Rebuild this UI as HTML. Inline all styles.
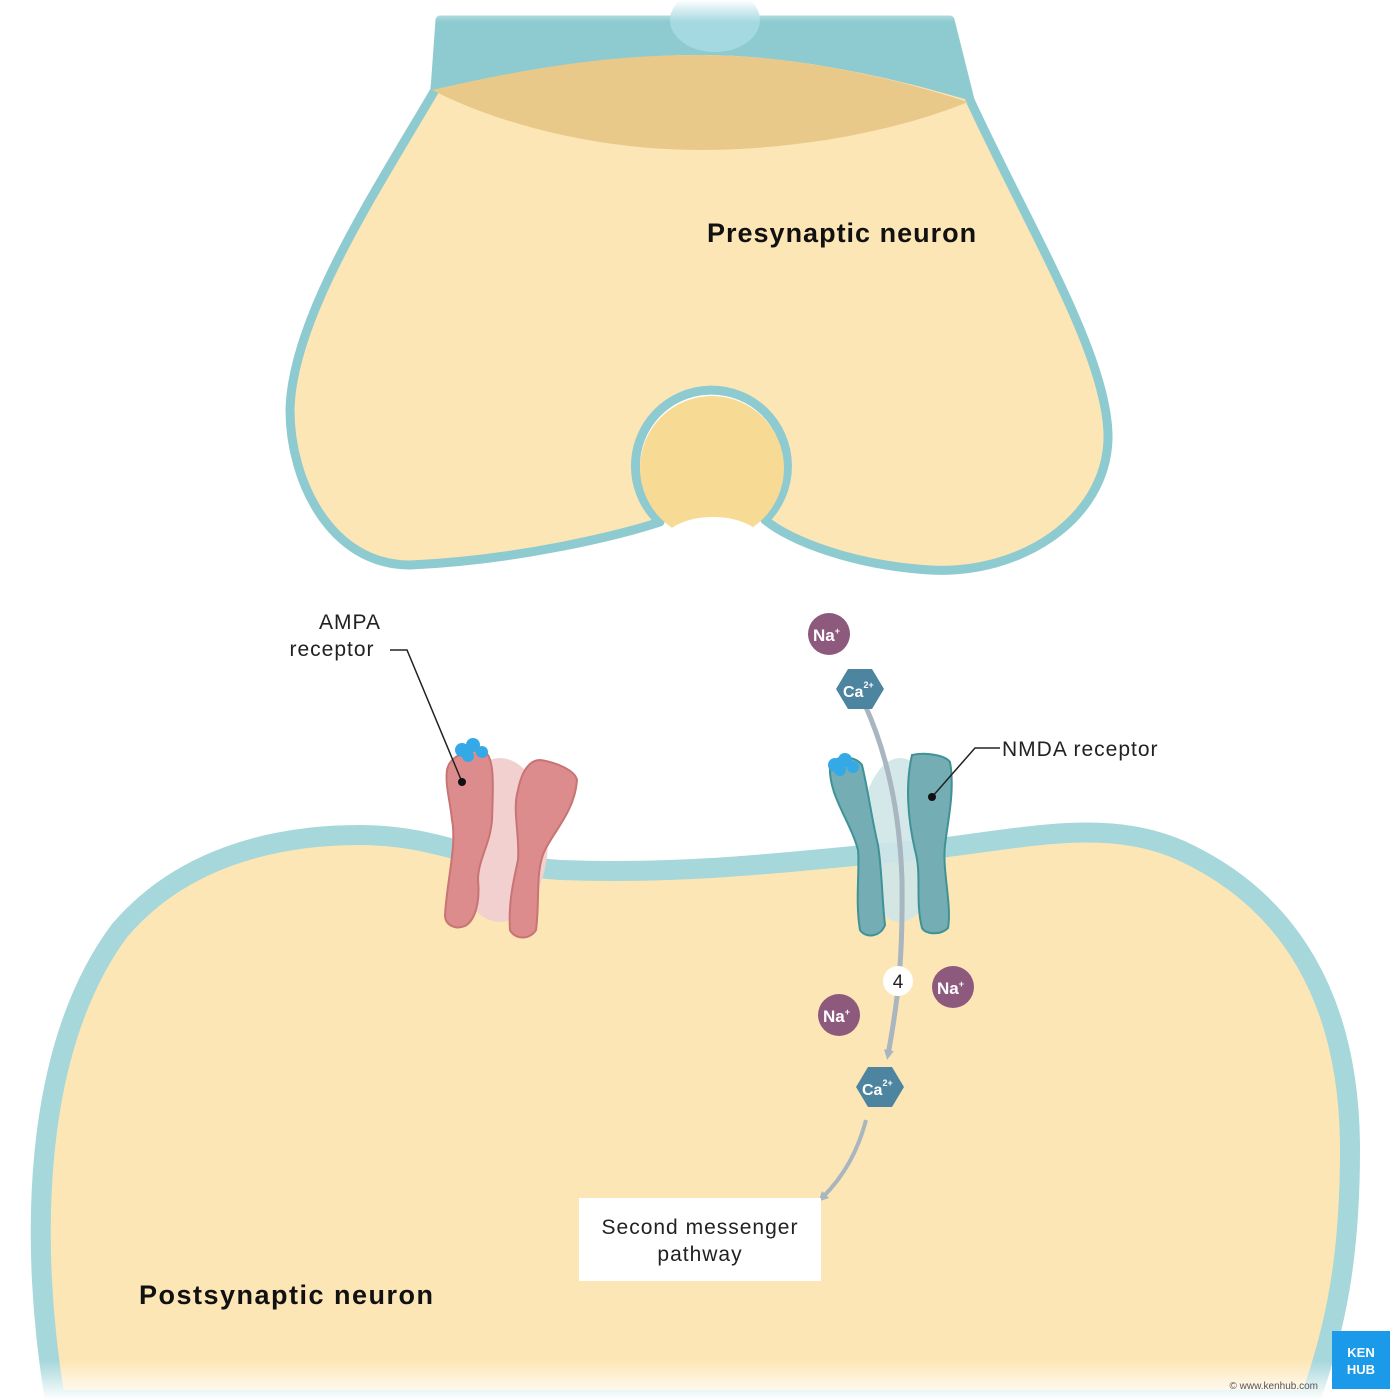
<!DOCTYPE html>
<html><head><meta charset="utf-8"><style>
html,body{margin:0;padding:0;background:#fff}
svg{display:block}
text{font-family:"Liberation Sans",sans-serif}
</style></head><body>
<svg width="1400" height="1400" viewBox="0 0 1400 1400" xmlns="http://www.w3.org/2000/svg">
<defs>
<linearGradient id="fadeTop" x1="0" y1="0" x2="0" y2="1">
<stop offset="0" stop-color="#fff" stop-opacity="1"/><stop offset="1" stop-color="#fff" stop-opacity="0"/>
</linearGradient>
<linearGradient id="fadeBot" x1="0" y1="0" x2="0" y2="1">
<stop offset="0" stop-color="#fff" stop-opacity="0"/><stop offset="1" stop-color="#fff" stop-opacity="1"/>
</linearGradient>
<marker id="ah" markerWidth="10" markerHeight="10" refX="5" refY="5" orient="auto" markerUnits="userSpaceOnUse">
<path d="M0,0 L10,5 L0,10 Z" fill="#a9b6c0"/>
</marker>
</defs>

<!-- Postsynaptic neuron -->
<path d="M55,1400 C30,1250 30,1050 120,930 C180,860 270,835 360,835 C440,835 480,865 560,870 C700,875 800,860 940,848 C1040,835 1110,820 1180,850 C1290,900 1350,1000 1350,1150 C1350,1260 1335,1330 1310,1400 Z" fill="#fde6b6" stroke="#a5d7db" stroke-width="20"/>

<!-- Presynaptic neuron -->
<path d="M440,20 L950,20 L970,100 C1030,230 1110,360 1108,440 C1105,520 1020,575 930,570 C850,565 790,540 765,520 A76,76 0 1 0 660,522 C620,535 520,560 410,565 C330,565 290,480 290,410 C292,320 370,200 435,90 Z" fill="#fde6b6" stroke="#8ecbd0" stroke-width="9" stroke-linejoin="round"/>
<path d="M440,20 L950,20 L968,100 C900,80 800,55 700,55 C600,55 520,75 430,92 Z" fill="#8dcbd1"/>
<ellipse cx="715" cy="20" rx="45" ry="32" fill="#a5d9e2"/>
<path d="M432,90 C520,70 600,55 700,55 C800,55 900,80 968,102 C900,130 800,150 700,150 C600,150 500,125 432,90 Z" fill="#e9c98a"/>
<rect x="420" y="0" width="560" height="22" fill="url(#fadeTop)"/>
<!-- vesicle -->
<circle cx="712" cy="468" r="72" fill="#f7da94"/>
<ellipse cx="713" cy="545" rx="52" ry="28" fill="#fff"/>

<!-- AMPA receptor -->
<ellipse cx="500" cy="840" rx="48" ry="82" fill="#f2d0d0"/>
<path d="M447,770 C450,755 470,748 485,752 C495,758 493,790 492,820 C490,845 478,860 478,880 C480,900 476,920 465,926 C455,930 445,925 445,915 C447,880 457,845 452,820 C450,800 445,785 447,770 Z" fill="#dc8c8c" stroke="#c97474" stroke-width="2"/>
<path d="M540,760 C555,762 575,770 577,780 C575,810 555,830 545,850 C535,870 540,900 536,930 C530,940 515,940 510,930 C508,900 515,875 518,860 C520,835 512,810 518,790 C522,770 530,760 540,760 Z" fill="#dc8c8c" stroke="#c97474" stroke-width="2"/>
<g fill="#35a9e6"><circle cx="462" cy="750" r="7"/><circle cx="473" cy="745" r="7"/><circle cx="482" cy="752" r="6"/><circle cx="468" cy="756" r="6"/></g>

<!-- NMDA receptor -->
<ellipse cx="900" cy="840" rx="40" ry="82" fill="#cfe6e8" opacity="0.9"/>
<path d="M830,765 C835,755 855,755 862,765 C868,790 872,820 878,845 C882,870 882,900 885,925 C880,938 865,938 860,930 C855,900 860,870 858,850 C850,820 828,795 830,765 Z" fill="#74adb3" stroke="#3f9296" stroke-width="2"/>
<path d="M912,755 C925,752 945,755 950,762 C955,790 948,820 945,845 C942,870 952,905 948,928 C940,936 925,934 922,928 C915,900 922,875 915,850 C908,820 905,785 912,755 Z" fill="#74adb3" stroke="#3f9296" stroke-width="2"/>
<g fill="#35a9e6"><circle cx="835" cy="765" r="7"/><circle cx="845" cy="760" r="7"/><circle cx="853" cy="767" r="6"/><circle cx="840" cy="770" r="6"/></g>

<!-- arrows -->
<path d="M865,705 C890,760 900,820 902,880 C903,960 898,1000 888,1055" fill="none" stroke="#a9b6c0" stroke-width="5" marker-end="url(#ah)"/>
<path d="M866,1120 C858,1150 845,1175 822,1198" fill="none" stroke="#a9b6c0" stroke-width="4" marker-end="url(#ah)"/>

<!-- ions -->
<g font-weight="bold" fill="#fff">
<circle cx="829" cy="634" r="21" fill="#8d5a7d"/><text x="813" y="641" font-size="17">Na<tspan font-size="9" dy="-7">+</tspan></text>
<circle cx="953" cy="987" r="21" fill="#8d5a7d"/><text x="937" y="994" font-size="17">Na<tspan font-size="9" dy="-7">+</tspan></text>
<circle cx="839" cy="1015" r="21" fill="#8d5a7d"/><text x="823" y="1022" font-size="17">Na<tspan font-size="9" dy="-7">+</tspan></text>
<polygon points="848,669 872,669 884,689 872,709 848,709 836,689" fill="#4d84a0"/><text x="843" y="697" font-size="16">Ca<tspan font-size="9" dy="-9">2+</tspan></text>
<polygon points="868,1067 892,1067 904,1087 892,1107 868,1107 856,1087" fill="#4d84a0"/><text x="862" y="1095" font-size="16">Ca<tspan font-size="9" dy="-9">2+</tspan></text>
</g>
<circle cx="898" cy="981" r="15" fill="#fff"/>
<text x="898" y="988" font-size="19" text-anchor="middle" fill="#222">4</text>

<!-- leader lines -->
<polyline points="390,650 407,650 462,782" fill="none" stroke="#222" stroke-width="1.5"/>
<circle cx="462" cy="782" r="4" fill="#111"/>
<polyline points="1000,748 975,748 932,797" fill="none" stroke="#222" stroke-width="1.5"/>
<circle cx="932" cy="797" r="4" fill="#111"/>

<!-- labels -->
<g fill="#222" font-size="21" letter-spacing="1">
<text x="350" y="629" text-anchor="middle">AMPA</text>
<text x="332" y="656" text-anchor="middle">receptor</text>
<text x="1002" y="756">NMDA receptor</text>
</g>
<text x="707" y="242" font-size="27" font-weight="bold" letter-spacing="1" fill="#111">Presynaptic neuron</text>
<text x="139" y="1304" font-size="27" font-weight="bold" letter-spacing="1.5" fill="#111">Postsynaptic neuron</text>
<rect x="579" y="1198" width="242" height="83" fill="#fff"/>
<text x="700" y="1234" font-size="21" letter-spacing="1" text-anchor="middle" fill="#222">Second messenger</text>
<text x="700" y="1261" font-size="21" letter-spacing="1" text-anchor="middle" fill="#222">pathway</text>

<rect x="0" y="1360" width="1400" height="40" fill="url(#fadeBot)"/>
<rect x="1332" y="1331" width="58" height="58" fill="#1a9ae8"/>
<text x="1361" y="1357" font-size="13" font-weight="bold" fill="#fff" text-anchor="middle">KEN</text>
<text x="1361" y="1374" font-size="13" font-weight="bold" fill="#fff" text-anchor="middle">HUB</text>
<text x="1318" y="1389" font-size="10" fill="#555" text-anchor="end">© www.kenhub.com</text>
</svg>
</body></html>
